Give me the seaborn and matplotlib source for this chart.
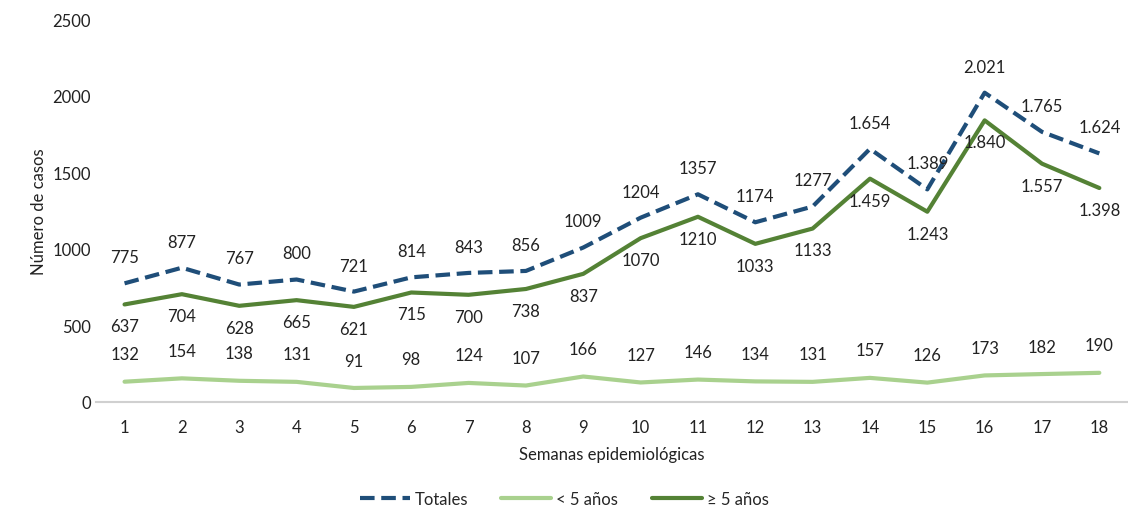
import pandas as pd
import matplotlib.pyplot as plt
import seaborn as sb

semanas = list(range(1, 19))
totales = [775, 877, 767, 800, 721, 814, 843, 856, 1009, 1204, 1357, 1174, 1277, 1654, 1389, 2021, 1765, 1624]
menores5 = [132, 154, 138, 131, 91, 98, 124, 107, 166, 127, 146, 134, 131, 157, 126, 173, 182, 190]
mayores5 = [637, 704, 628, 665, 621, 715, 700, 738, 837, 1070, 1210, 1033, 1133, 1459, 1243, 1840, 1557, 1398]

lbl_totales = ['775', '877', '767', '800', '721', '814', '843', '856', '1009', '1204', '1357', '1174', '1277',
               '1.654', '1.389', '2.021', '1.765', '1.624']
lbl_menores5 = [str(v) for v in menores5]
lbl_mayores5 = ['637', '704', '628', '665', '621', '715', '700', '738', '837', '1070', '1210', '1033', '1133',
                '1.459', '1.243', '1.840', '1.557', '1.398']

df = pd.DataFrame({'Semana': semanas, 'Totales': totales, '< 5 años': menores5, '≥ 5 años': mayores5})

sb.set_style('white')
plt.rcParams['font.family'] = ['Lato', 'DejaVu Sans']

fig = plt.figure(figsize=(11.28, 5.1), dpi=100)
ax = fig.add_axes([0.085, 0.21, 0.915, 0.75])

sb.lineplot(data=df, x='Semana', y='Totales', ax=ax, color='#1f4e79', lw=3, label='Totales')
ax.lines[-1].set_dashes([3.5, 1.6])
sb.lineplot(data=df, x='Semana', y='< 5 años', ax=ax, color='#a9d18e', lw=3, label='< 5 años')
sb.lineplot(data=df, x='Semana', y='≥ 5 años', ax=ax, color='#548235', lw=3, label='≥ 5 años')

for x, y, t in zip(semanas, totales, lbl_totales):
    ax.annotate(t, (x, y), xytext=(0, 13), textcoords='offset points', ha='center', va='bottom', fontsize=12, color='#222222')
for x, y, t in zip(semanas, menores5, lbl_menores5):
    ax.annotate(t, (x, y), xytext=(0, 14), textcoords='offset points', ha='center', va='bottom', fontsize=12, color='#222222')
for x, y, t in zip(semanas, mayores5, lbl_mayores5):
    ax.annotate(t, (x, y), xytext=(0, -10), textcoords='offset points', ha='center', va='top', fontsize=12, color='#222222')

ax.set_xlim(0.5, 18.5)
ax.set_ylim(0, 2500)
ax.set_xticks(semanas)
ax.set_yticks(range(0, 2501, 500))
ax.tick_params(axis='both', length=0, labelsize=12, colors='#222222')
ax.tick_params(axis='x', pad=12)
ax.set_xlabel('Semanas epidemiológicas', fontsize=12, color='#222222', labelpad=8)
ax.set_ylabel('Número de casos', fontsize=12, color='#222222')
for s in ['top', 'right', 'left']:
    ax.spines[s].set_visible(False)
ax.spines['bottom'].set_color('#d0d0d0')
ax.spines['bottom'].set_linewidth(1.5)

handles, labels = ax.get_legend_handles_labels()
ax.get_legend().remove()
fig.legend(handles, labels, loc='lower center', bbox_to_anchor=(0.5, -0.025), ncol=3, frameon=False, fontsize=12,
           handlelength=3, columnspacing=2.0, handletextpad=0.3)

plt.savefig('out.png')
